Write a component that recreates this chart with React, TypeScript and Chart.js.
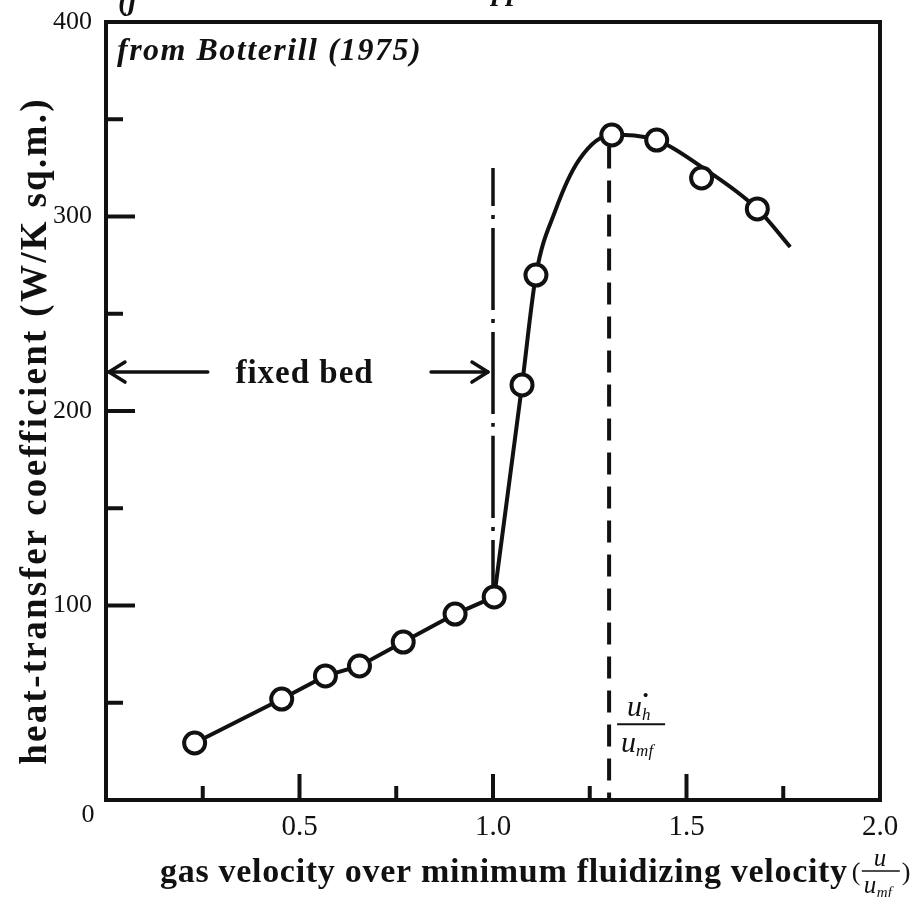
import { useEffect, useRef } from 'react';
import { Chart, registerables } from 'chart.js';

Chart.register(...registerables);

// Measured heat-transfer coefficients against u/umf
const velocityRatio = [0.229, 0.454, 0.567, 0.655, 0.768, 0.902, 1.003, 1.075, 1.111, 1.307, 1.423, 1.539, 1.683];
const heatTransfer = [29.3, 51.9, 63.8, 68.9, 81.2, 95.6, 104.4, 213.4, 269.9, 341.9, 339.3, 319.8, 303.9];

// Fixed-bed straight line (through the first seven readings)
const fixedBedX = [0.229, 0.454, 0.567, 0.655, 0.768, 0.902, 1.003];
const fixedBedY = [29.3, 51.9, 63.8, 68.9, 81.2, 95.6, 104.4];

// Fluidized-bed curve, traced from the onset of fluidization to its end
const fluidX = [1.003, 1.075, 1.111, 1.161, 1.222, 1.307, 1.423, 1.539, 1.683, 1.768];
const fluidY = [104.4, 213.4, 269.9, 303, 329, 342, 339.3, 325.5, 303.9, 284.3];

// Vertical markers: minimum fluidization (dash-dot) and optimum velocity (dashed)
const minFluidX = [1.0, 1.0];
const minFluidY = [325, 104];
const optimumX = [1.3, 1.3];
const optimumY = [336, 0];

// Axis ticks and labels
const xTickValues = [0.25, 0.5, 0.75, 1.0, 1.25, 1.5, 1.75];
const xMajorTicks = [0.5, 1.0, 1.5];
const xTickLabels = ['0.5', '1.0', '1.5', '2.0'];
const xLabelValues = [0.5, 1.0, 1.5, 2.0];
const yTickValues = [50, 100, 150, 200, 250, 300, 350];
const yMajorTicks = [100, 200, 300];
const yTickLabels = ['100', '200', '300', '400'];
const yLabelValues = [100, 200, 300, 400];

// "fixed bed" span
const fixedBedArrowY = 220;
const fixedBedLeft = [0, 0.263];
const fixedBedRight = [0.84, 0.987];

const INK = '#111';
const SERIF = '"Liberation Serif", "Times New Roman", serif';

const toPoints = (xs: number[], ys: number[]) => xs.map((x, i) => ({ x, y: ys[i] }));

function arrow(ctx: CanvasRenderingContext2D, x0: number, x1: number, y: number) {
  // line from x0 to tip x1, open chevron head at x1
  const dir = Math.sign(x1 - x0);
  ctx.beginPath();
  ctx.moveTo(x0, y);
  ctx.lineTo(x1, y);
  ctx.stroke();
  ctx.beginPath();
  ctx.moveTo(x1 - dir * 16, y - 10);
  ctx.lineTo(x1, y);
  ctx.lineTo(x1 - dir * 16, y + 10);
  ctx.stroke();
}

function setSpacing(ctx: CanvasRenderingContext2D, px: number) {
  (ctx as any).letterSpacing = `${px}px`;
}

const paperAxes = {
  id: 'paperAxes',
  beforeDatasetsDraw(chart: any) {
    const { ctx, chartArea: a, scales } = chart;
    const x = scales.x;
    const y = scales.y;
    ctx.save();
    ctx.strokeStyle = INK;
    ctx.fillStyle = INK;

    // frame
    ctx.lineWidth = 4;
    ctx.lineJoin = 'miter';
    ctx.strokeRect(a.left, a.top, a.right - a.left, a.bottom - a.top);

    // inward ticks
    ctx.lineWidth = 4;
    ctx.lineCap = 'butt';
    for (const v of xTickValues) {
      const px = x.getPixelForValue(v);
      const len = xMajorTicks.includes(v) ? 26 : 14;
      ctx.beginPath();
      ctx.moveTo(px, a.bottom);
      ctx.lineTo(px, a.bottom - len);
      ctx.stroke();
    }
    for (const v of yTickValues) {
      const py = y.getPixelForValue(v);
      const len = yMajorTicks.includes(v) ? 29 : 17;
      ctx.beginPath();
      ctx.moveTo(a.left, py);
      ctx.lineTo(a.left + len, py);
      ctx.stroke();
    }

    // tick labels
    ctx.font = `26px ${SERIF}`;
    ctx.textAlign = 'right';
    ctx.textBaseline = 'middle';
    yLabelValues.forEach((v, i) => {
      ctx.fillText(yTickLabels[i], a.left - 14, y.getPixelForValue(v));
    });
    ctx.textAlign = 'center';
    ctx.fillText('0', a.left - 18, a.bottom + 15);
    ctx.font = `29px ${SERIF}`;
    xLabelValues.forEach((v, i) => {
      ctx.fillText(xTickLabels[i], x.getPixelForValue(v), a.bottom + 27);
    });
    ctx.restore();
  },
  afterDatasetsDraw(chart: any) {
    const { ctx, chartArea: a, scales } = chart;
    const x = scales.x;
    const y = scales.y;
    ctx.save();
    ctx.strokeStyle = INK;
    ctx.fillStyle = INK;

    // fixed bed arrows
    ctx.lineWidth = 3.5;
    ctx.lineCap = 'round';
    ctx.lineJoin = 'round';
    const ay = y.getPixelForValue(fixedBedArrowY);
    arrow(ctx, x.getPixelForValue(fixedBedLeft[1]), x.getPixelForValue(fixedBedLeft[0]) + 3, ay);
    arrow(ctx, x.getPixelForValue(fixedBedRight[0]), x.getPixelForValue(fixedBedRight[1]), ay);

    setSpacing(ctx, 1);
    ctx.font = `bold 33px ${SERIF}`;
    ctx.textAlign = 'center';
    ctx.textBaseline = 'alphabetic';
    ctx.fillText('fixed bed', x.getPixelForValue(0.513), ay + 11);

    // source note
    setSpacing(ctx, 1.5);
    ctx.font = `italic bold 32px ${SERIF}`;
    ctx.textAlign = 'left';
    ctx.fillText('from Botterill (1975)', a.left + 11, a.top + 38);

    // optimum velocity label u_h* / u_mf
    setSpacing(ctx, 0);
    const ox = x.getPixelForValue(1.3);
    const barY = y.getPixelForValue(39);
    ctx.lineWidth = 2;
    ctx.lineCap = 'butt';
    ctx.beginPath();
    ctx.moveTo(ox + 8, barY);
    ctx.lineTo(ox + 56, barY);
    ctx.stroke();
    ctx.font = `italic 30px ${SERIF}`;
    ctx.fillText('u', ox + 18, barY - 8);
    ctx.font = `italic 17px ${SERIF}`;
    ctx.fillText('h', ox + 33, barY - 4);
    ctx.font = `bold 15px ${SERIF}`;
    ctx.fillText('•', ox + 34, barY - 24);
    ctx.font = `italic 30px ${SERIF}`;
    ctx.fillText('u', ox + 12, barY + 28);
    ctx.font = `italic 17px ${SERIF}`;
    ctx.fillText('mf', ox + 27, barY + 32);

    // x-axis title with u/umf fraction
    setSpacing(ctx, 0.7);
    ctx.font = `bold 34px ${SERIF}`;
    const titleText = 'gas velocity over minimum fluidizing velocity';
    const tx = 160;
    const tBase = 882;
    ctx.fillText(titleText, tx, tBase);
    const tw = ctx.measureText(titleText).width;
    setSpacing(ctx, 0);
    let fx = tx + tw + 4;
    ctx.font = `26px ${SERIF}`;
    ctx.fillText('(', fx, tBase - 2);
    fx += 10;
    ctx.lineWidth = 1.5;
    ctx.beginPath();
    ctx.moveTo(fx, tBase - 11);
    ctx.lineTo(fx + 38, tBase - 11);
    ctx.stroke();
    ctx.font = `italic 25px ${SERIF}`;
    ctx.fillText('u', fx + 12, tBase - 16);
    ctx.fillText('u', fx + 2, tBase + 11);
    ctx.font = `italic 15px ${SERIF}`;
    ctx.fillText('mf', fx + 15, tBase + 15);
    ctx.font = `26px ${SERIF}`;
    ctx.fillText(')', fx + 40, tBase - 2);

    // y-axis title
    ctx.translate(36, 431);
    ctx.rotate(-Math.PI / 2);
    setSpacing(ctx, 2.3);
    ctx.font = `bold 37px ${SERIF}`;
    ctx.textAlign = 'center';
    ctx.textBaseline = 'middle';
    ctx.fillText('heat-transfer coefficient (W/K sq.m.)', 0, 0);
    ctx.restore();

    // caption fragment running off the top edge
    ctx.save();
    ctx.fillStyle = INK;
    ctx.font = `italic bold 30px ${SERIF}`;
    ctx.textAlign = 'left';
    ctx.textBaseline = 'alphabetic';
    ctx.fillText('(j', a.left + 12, 10);
    ctx.fillText('pp', 492, 0);
    ctx.restore();
  },
};

export default function App() {
  const canvasRef = useRef<HTMLCanvasElement | null>(null);

  useEffect(() => {
    const canvas = canvasRef.current;
    if (!canvas) return;
    const chart = new Chart(canvas, {
      type: 'scatter',
      data: {
        datasets: [
          {
            label: 'measured',
            data: toPoints(velocityRatio, heatTransfer),
            showLine: false,
            pointStyle: 'circle',
            pointRadius: 10.5,
            pointBorderWidth: 4,
            pointBackgroundColor: '#fff',
            pointBorderColor: INK,
            order: 0,
          },
          {
            label: 'fixed bed',
            data: toPoints(fixedBedX, fixedBedY),
            showLine: true,
            borderColor: INK,
            borderWidth: 4,
            pointRadius: 0,
            tension: 0,
            order: 1,
          },
          {
            label: 'fluidized bed',
            data: toPoints(fluidX, fluidY),
            showLine: true,
            borderColor: INK,
            borderWidth: 4,
            pointRadius: 0,
            cubicInterpolationMode: 'monotone',
            order: 1,
          },
          {
            label: 'minimum fluidization',
            data: toPoints(minFluidX, minFluidY),
            showLine: true,
            borderColor: INK,
            borderWidth: 3.5,
            borderDash: [82, 9, 4, 9],
            borderDashOffset: 44,
            pointRadius: 0,
            order: 2,
          },
          {
            label: 'optimum velocity',
            data: toPoints(optimumX, optimumY),
            showLine: true,
            borderColor: INK,
            borderWidth: 4,
            borderDash: [22, 12],
            pointRadius: 0,
            order: 2,
          },
        ],
      },
      options: {
        animation: false,
        responsive: false,
        devicePixelRatio: 1,
        layout: { padding: { left: 106, right: 38, top: 22, bottom: 97 } },
        plugins: {
          legend: { display: false },
          tooltip: { enabled: false },
          title: { display: false },
        },
        scales: {
          x: { type: 'linear', min: 0, max: 2, display: false },
          y: { type: 'linear', min: 0, max: 400, display: false },
        },
      },
      plugins: [paperAxes],
    } as any);
    return () => chart.destroy();
  }, []);

  return (
    <div style={{ position: 'absolute', left: 0, top: 0, width: 918, height: 897, background: '#fff' }}>
      <canvas ref={canvasRef} width={918} height={897} style={{ display: 'block' }} />
    </div>
  );
}
